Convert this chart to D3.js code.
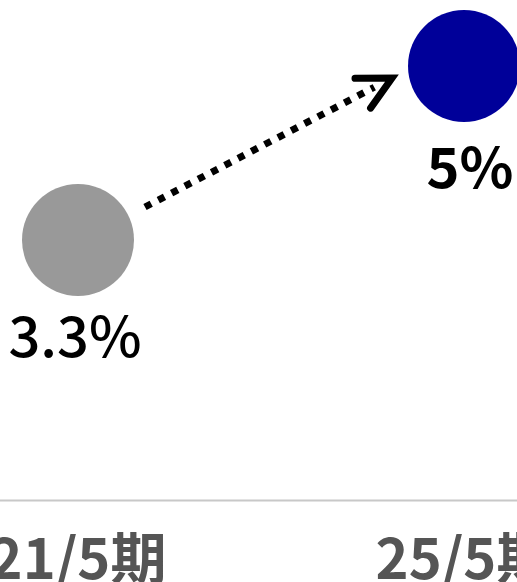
<!DOCTYPE html>
<html>
<head>
<meta charset="utf-8">
<script src="https://cdn.jsdelivr.net/npm/d3@7"></script>
<style>
  body { margin: 0; background: #fff; }
  svg { display: block; }
  .label { font-family: "Noto Sans CJK JP", "Noto Sans", sans-serif; }
</style>
</head>
<body>
<script>
var periods = ["21/5期", "25/5期"],
    rates = [3.3, 5],
    rateLabels = ["3.3%", "5%"],
    colors = ["#999999", "#000099"];

var width = 517,
    height = 582,
    radius = 56;

var x = d3.scalePoint()
    .domain(periods)
    .range([78, 464]);

var y = d3.scaleLinear()
    .domain([3.3, 5])
    .range([240, 66]);

var svg = d3.select("body").append("svg")
    .attr("width", width)
    .attr("height", height);

// baseline
svg.append("line")
    .attr("x1", 0)
    .attr("x2", width)
    .attr("y1", 500.5)
    .attr("y2", 500.5)
    .attr("stroke", "#c8c8c8")
    .attr("stroke-width", 2);

// period labels
svg.selectAll("text.period")
    .data(periods)
  .enter().append("text")
    .attr("class", "label period")
    .attr("x", function(d) { return x(d); })
    .attr("y", 579)
    .attr("text-anchor", "middle")
    .attr("fill", "#555")
    .attr("font-weight", "bold")
    .attr("font-size", 56)
    .text(function(d) { return d; });

// dotted arrow between the two points
var x0 = x(periods[0]), y0 = y(rates[0]),
    x1 = x(periods[1]), y1 = y(rates[1]);
var sx = x0 + 67, sy = y0 - 33,
    ex = x1 - 72, ey = y1 + 12;
var ang = Math.atan2(ey - sy, ex - sx);

svg.append("line")
    .attr("x1", sx)
    .attr("y1", sy)
    .attr("x2", ex - 20 * Math.cos(ang))
    .attr("y2", ey - 20 * Math.sin(ang))
    .attr("stroke", "#000")
    .attr("stroke-width", 7)
    .attr("stroke-dasharray", "7,8");

var head = 37, spread = 27 * Math.PI / 180;
svg.append("path")
    .attr("d", "M" + (ex - head * Math.cos(ang - spread)) + "," + (ey - head * Math.sin(ang - spread)) +
               "L" + ex + "," + ey +
               "L" + (ex - head * Math.cos(ang + spread)) + "," + (ey - head * Math.sin(ang + spread)))
    .attr("fill", "none")
    .attr("stroke", "#000")
    .attr("stroke-width", 7)
    .attr("stroke-linecap", "round")
    .attr("stroke-linejoin", "miter");

// circles
svg.selectAll("circle")
    .data(rates)
  .enter().append("circle")
    .attr("cx", function(d, i) { return x(periods[i]); })
    .attr("cy", function(d) { return y(d); })
    .attr("r", radius)
    .attr("fill", function(d, i) { return colors[i]; });

// value labels
svg.selectAll("text.value")
    .data(rates)
  .enter().append("text")
    .attr("class", "label value")
    .attr("x", function(d, i) { return x(periods[i]) + (i ? 6 : -3); })
    .attr("y", function(d, i) { return y(d) + (i ? 122 : 117); })
    .attr("text-anchor", "middle")
    .attr("fill", "#000")
    .attr("font-weight", function(d, i) { return i ? "bold" : "500"; })
    .attr("font-size", 56)
    .text(function(d, i) { return rateLabels[i]; });
</script>
</body>
</html>
